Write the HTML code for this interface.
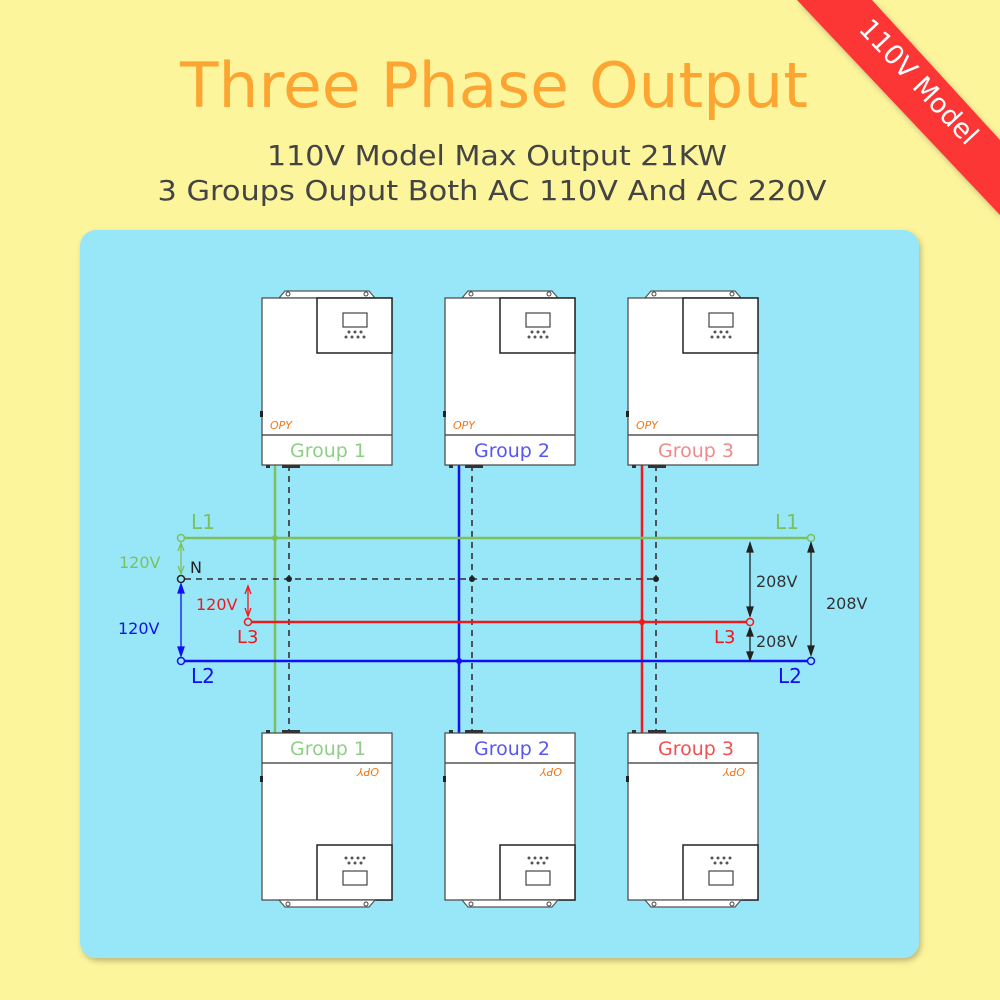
<!DOCTYPE html>
<html><head><meta charset="utf-8"><style>
html,body{margin:0;padding:0;background:#fdf59c;}
svg{display:block;}
text{font-family:"DejaVu Sans","Liberation Sans",sans-serif;}
</style></head><body>
<svg width="1000" height="1000" viewBox="0 0 1000 1000" xmlns="http://www.w3.org/2000/svg">
<defs>
<filter id="sh" x="-10%" y="-10%" width="120%" height="120%"><feDropShadow dx="2" dy="3" stdDeviation="3" flood-color="#000" flood-opacity="0.25"/></filter>
<g id="topInv">
  <path d="M17,7 L23,0 L107,0 L113,7 Z" fill="#fff" stroke="#555" stroke-width="1.2"/>
  <circle cx="26" cy="3" r="2" fill="none" stroke="#444"/>
  <circle cx="104" cy="3" r="2" fill="none" stroke="#444"/>
  <rect x="0" y="7" width="130" height="167" fill="#fff" stroke="#444" stroke-width="1.2"/>
  <rect x="55" y="7" width="75" height="55" fill="#fff" stroke="#222" stroke-width="1.5"/>
  <rect x="81" y="22" width="24" height="14" fill="none" stroke="#444" stroke-width="1.2"/>
  <g fill="#555"><circle cx="87" cy="41" r="1.5"/><circle cx="93" cy="41" r="1.5"/><circle cx="99" cy="41" r="1.5"/>
  <circle cx="84" cy="46" r="1.5"/><circle cx="90" cy="46" r="1.5"/><circle cx="96" cy="46" r="1.5"/><circle cx="102" cy="46" r="1.5"/></g>
  <line x1="0" y1="144" x2="130" y2="144" stroke="#555" stroke-width="1.5"/>
  <rect x="-2" y="120" width="3" height="6" fill="#222"/>
  <rect x="4" y="174" width="4" height="3" fill="#333"/>
  <rect x="20" y="174" width="18" height="3" fill="#333"/>
</g>
<g id="botInv">
  <rect x="0" y="0" width="130" height="167" fill="#fff" stroke="#444" stroke-width="1.2"/>
  <line x1="0" y1="30" x2="130" y2="30" stroke="#555" stroke-width="1.5"/>
  <rect x="55" y="112" width="75" height="55" fill="#fff" stroke="#222" stroke-width="1.5"/>
  <rect x="81" y="138" width="24" height="14" fill="none" stroke="#444" stroke-width="1.2"/>
  <g fill="#555"><circle cx="87" cy="130" r="1.5"/><circle cx="93" cy="130" r="1.5"/><circle cx="99" cy="130" r="1.5"/>
  <circle cx="84" cy="125" r="1.5"/><circle cx="90" cy="125" r="1.5"/><circle cx="96" cy="125" r="1.5"/><circle cx="102" cy="125" r="1.5"/></g>
  <path d="M17,167 L23,174 L107,174 L113,167 Z" fill="#fff" stroke="#555" stroke-width="1.2"/>
  <circle cx="26" cy="171" r="2" fill="none" stroke="#444"/>
  <circle cx="104" cy="171" r="2" fill="none" stroke="#444"/>
  <rect x="-2" y="43" width="3" height="6" fill="#222"/>
  <rect x="4" y="-3" width="4" height="3" fill="#333"/>
  <rect x="20" y="-3" width="18" height="3" fill="#333"/>
</g>
<marker id="ag" markerWidth="8" markerHeight="8" refX="4" refY="7" orient="auto-start-reverse" markerUnits="userSpaceOnUse"><path d="M1,0 L4,7 L7,0" fill="#7cc05e"/></marker>
</defs>

<!-- title -->
<text x="494" y="107" text-anchor="middle" font-size="62" fill="#fca532" textLength="628" lengthAdjust="spacingAndGlyphs">Three Phase Output</text>
<text x="497" y="165" text-anchor="middle" font-size="28" fill="#444" textLength="460" lengthAdjust="spacingAndGlyphs">110V Model Max Output 21KW</text>
<text x="492" y="200" text-anchor="middle" font-size="28" fill="#444" textLength="669" lengthAdjust="spacingAndGlyphs">3 Groups Ouput Both AC 110V And AC 220V</text>

<!-- ribbon -->
<g filter="url(#sh)">
<polygon points="797,0 872,0 1000,140 1000,215" fill="#fc3636"/>
</g>
<text x0="0" transform="translate(912,88) rotate(47)" text-anchor="middle" font-size="27" fill="#fff" font-family="Liberation Sans,sans-serif">110V Model</text>

<!-- panel -->
<rect x="80" y="230" width="839" height="728" rx="16" fill="#98e7f9" filter="url(#sh)"/>

<!-- verticals -->
<g stroke-width="2.5">
<line x1="275" y1="465" x2="275" y2="733" stroke="#7cc05e"/>
<line x1="459" y1="465" x2="459" y2="733" stroke="#1010f0"/>
<line x1="642" y1="465" x2="642" y2="733" stroke="#f01818"/>
</g>
<g stroke="#444" stroke-width="1.8" stroke-dasharray="6,5">
<line x1="289" y1="465" x2="289" y2="733"/>
<line x1="472" y1="465" x2="472" y2="733"/>
<line x1="656" y1="465" x2="656" y2="733"/>
<line x1="185" y1="579" x2="656" y2="579"/>
</g>
<!-- horizontals -->
<line x1="185" y1="538" x2="807" y2="538" stroke="#7cc05e" stroke-width="2.5"/>
<line x1="252" y1="622" x2="746" y2="622" stroke="#f01818" stroke-width="2.5"/>
<line x1="185" y1="661" x2="807" y2="661" stroke="#1010f0" stroke-width="2.5"/>
<!-- junction dots -->
<circle cx="275" cy="538" r="3" fill="#7cc05e"/>
<circle cx="289" cy="579" r="3" fill="#222"/>
<circle cx="472" cy="579" r="3" fill="#222"/>
<circle cx="656" cy="579" r="3" fill="#222"/>
<circle cx="459" cy="661" r="3" fill="#1010f0"/>
<circle cx="642" cy="622" r="3" fill="#f01818"/>
<!-- terminals -->
<g fill="#98e7f9" stroke-width="1.5">
<circle cx="181" cy="538" r="3.5" stroke="#7cc05e"/>
<circle cx="181" cy="579" r="3.5" stroke="#222"/>
<circle cx="248" cy="622" r="3.5" stroke="#f01818"/>
<circle cx="181" cy="661" r="3.5" stroke="#1010f0"/>
<circle cx="811" cy="538" r="3.5" stroke="#7cc05e"/>
<circle cx="750" cy="622" r="3.5" stroke="#f01818"/>
<circle cx="811" cy="661" r="3.5" stroke="#1010f0"/>
</g>
<!-- dimension arrows -->
<g stroke-width="1.3">
<line x1="181" y1="544" x2="181" y2="573" stroke="#7cc05e"/>
<path d="M178,551 L181,543 L184,551 M178,566 L181,574 L184,566" fill="none" stroke="#7cc05e"/>
<line x1="181" y1="585" x2="181" y2="655" stroke="#1010f0"/>
<path d="M178,593 L181,584 L184,593 Z M178,647 L181,656 L184,647 Z" fill="#1010f0" stroke="#1010f0"/>
<line x1="248" y1="586" x2="248" y2="616" stroke="#f01818"/>
<path d="M245,594 L248,586 L251,594 M245,608 L248,616 L251,608" fill="none" stroke="#f01818"/>
<g stroke="#222" fill="#222">
<line x1="750" y1="543" x2="750" y2="616"/>
<path d="M747,552 L750,543 L753,552 Z M747,607 L750,616 L753,607 Z"/>
<line x1="750" y1="628" x2="750" y2="660"/>
<path d="M747,636 L750,628 L753,636 Z M747,652 L750,660 L753,652 Z"/>
<line x1="811" y1="543" x2="811" y2="655"/>
<path d="M808,552 L811,543 L814,552 Z M808,646 L811,655 L814,646 Z"/>
</g>
</g>
<!-- labels -->
<g font-size="18">
<text x="191" y="529" fill="#7cc05e" font-size="20">L1</text>
<text x="775" y="529" fill="#7cc05e" font-size="20">L1</text>
<text x="190" y="573" fill="#222" font-size="16">N</text>
<text x="119" y="568" fill="#7cc05e" font-size="16">120V</text>
<text x="118" y="634" fill="#1010f0" font-size="16">120V</text>
<text x="196" y="610" fill="#f01818" font-size="16">120V</text>
<text x="237" y="643" fill="#f01818" font-size="18">L3</text>
<text x="714" y="643" fill="#f01818" font-size="18">L3</text>
<text x="191" y="683" fill="#1010f0" font-size="20">L2</text>
<text x="778" y="683" fill="#1010f0" font-size="20">L2</text>
<text x="756" y="587" fill="#333" font-size="16">208V</text>
<text x="756" y="647" fill="#333" font-size="16">208V</text>
<text x="826" y="609" fill="#333" font-size="16">208V</text>
</g>

<!-- inverters top -->
<use href="#topInv" x="262" y="291"/>
<use href="#topInv" x="445" y="291"/>
<use href="#topInv" x="628" y="291"/>
<use href="#botInv" x="262" y="733"/>
<use href="#botInv" x="445" y="733"/>
<use href="#botInv" x="628" y="733"/>
<g font-size="19" text-anchor="middle">
<text x="328" y="457" fill="#8fce86">Group 1</text>
<text x="512" y="457" fill="#5656f0">Group 2</text>
<text x="696" y="457" fill="#f08a8a">Group 3</text>
<text x="328" y="755" fill="#8fce86">Group 1</text>
<text x="512" y="755" fill="#5656f0">Group 2</text>
<text x="696" y="755" fill="#f05050">Group 3</text>
</g>
<g font-family="Liberation Serif,serif" font-style="italic" font-size="11" fill="#f07818">
<text x="270" y="429">OPY</text>
<text x="453" y="429">OPY</text>
<text x="636" y="429">OPY</text>
<text x="383" y="776" text-anchor="end" transform="rotate(180 370 772)">OPY</text>
<text x="566" y="776" text-anchor="end" transform="rotate(180 553 772)">OPY</text>
<text x="749" y="776" text-anchor="end" transform="rotate(180 736 772)">OPY</text>
</g>
</svg>
</body></html>
